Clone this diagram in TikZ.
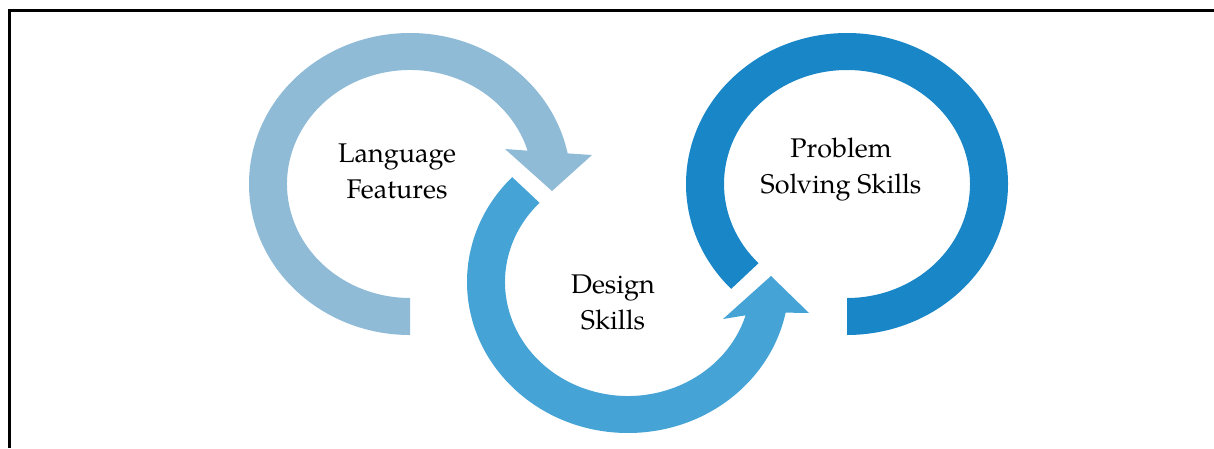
\documentclass[tikz,border=0pt]{standalone}
\usepackage{fontspec}
\setmainfont{TeX Gyre Pagella}
\definecolor{featblue}{RGB}{143,187,215}
\definecolor{designblue}{RGB}{69,163,213}
\definecolor{solveblue}{RGB}{25,134,199}

\begin{document}
\begin{tikzpicture}[x=1pt, y=1pt]
    \tikzstyle{outer} = [x radius = 161, y radius = 151]
    \tikzstyle{inner} = [x radius = 123, y radius = 114]
    \tikzstyle{ringtext} = [align = center, font = \fontsize{27}{36}\selectfont]
    \useasboundingbox (0,0) rectangle (1214,448);

    % centres of the three loops
    \coordinate (LF) at (410,264);
    \coordinate (DS) at (628,166);
    \coordinate (PS) at (847,264);

    \draw[line width = 3pt] (1214,437) -- (9,437) -- (9,0);

    % outer arc, arrow head, inner arc back
    \fill[featblue] ([shift = {(270:161 and 151)}]LF) arc[outer, start angle = 270, end angle = 11.7]
        -- (592,293) -- (552,257) -- (505,299)
        -- ([shift = {(17:123 and 114)}]LF) arc[inner, start angle = 17, end angle = 270] -- cycle;
    \fill[designblue] ([shift = {(136:161 and 151)}]DS) arc[outer, start angle = 136, end angle = 348.3]
        -- (809,135) -- (771,172) -- (723,129)
        -- ([shift = {(343:123 and 114)}]DS) arc[inner, start angle = 343, end angle = 136] -- cycle;
    \fill[solveblue] ([shift = {(224:161 and 151)}]PS) arc[outer, start angle = 224, end angle = -90]
        -- ([shift = {(-90:123 and 114)}]PS) arc[inner, start angle = -90, end angle = 224] -- cycle;

    \node[ringtext](lang) at (397,277){Language\\Features};
    \node[ringtext](design) at (613,146){Design\\Skills};
    \node[ringtext](solve) at (841,278){Problem\\Solving Skills};
\end{tikzpicture}
\end{document}
